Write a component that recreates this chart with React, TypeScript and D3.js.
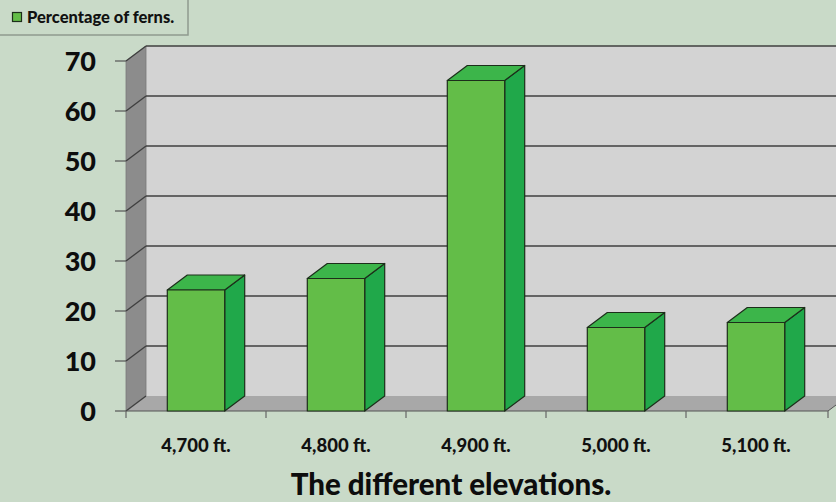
import React from "react";
import * as d3 from "d3";

const categories = ["4,700 ft.", "4,800 ft.", "4,900 ft.", "5,000 ft.", "5,100 ft."];
const values = [24.2, 26.5, 66.1, 16.7, 17.7];
const yTicks = [0, 10, 20, 30, 40, 50, 60, 70];
const seriesName = "Percentage of ferns.";
const xTitle = "The different elevations.";

const W = 836;
const H = 502;
const left = 126;
const right = 826;
const bottom = 411;
const top = 61;
const DX = 20;
const DY = -15;
const FONT = "Lato, 'Open Sans', sans-serif";

export default function App() {
  const x = d3
    .scaleBand<string>()
    .domain(categories)
    .range([left, right])
    .paddingInner(0.59)
    .paddingOuter(0.295);
  const y = d3.scaleLinear().domain([0, 70]).range([bottom, top]);
  const farRight = right + 2 + DX + 10;

  const poly = (pts: [number, number][]) => pts.map((p) => p.join(",")).join(" ");

  return (
    <svg
      width={W}
      height={H}
      style={{ position: "absolute", left: 0, top: 0, background: "#c9dac8" }}
    >
      <rect x={0} y={0} width={W} height={H} fill="#c9dac8" />
      {/* back wall */}
      <polygon
        points={poly([
          [left + DX, y(70) + DY],
          [farRight, y(70) + DY],
          [farRight, y(0) + DY],
          [left + DX, y(0) + DY],
        ])}
        fill="#d3d3d3"
      />
      {/* side wall */}
      <polygon
        points={poly([
          [left, y(0)],
          [left, y(70)],
          [left + DX, y(70) + DY],
          [left + DX, y(0) + DY],
        ])}
        fill="#8c8c8c"
        stroke="#7a7a7a"
        strokeWidth={0.8}
      />
      {/* floor */}
      <polygon
        points={poly([
          [left, y(0)],
          [right + 2, y(0)],
          [right + 2 + DX, y(0) + DY],
          [left + DX, y(0) + DY],
        ])}
        fill="#a8a8a8"
      />
      {/* gridlines */}
      {yTicks.map((t) => (
        <g key={t}>
          {t > 0 && (
            <line
              x1={left + DX}
              x2={farRight}
              y1={y(t) + DY}
              y2={y(t) + DY}
              stroke="#3f3f3f"
              strokeWidth={1.3}
            />
          )}
          <line
            x1={left}
            x2={left + DX}
            y1={y(t)}
            y2={y(t) + DY}
            stroke="#3f3f3f"
            strokeWidth={1.3}
          />
          <line x1={left - 11} x2={left} y1={y(t)} y2={y(t)} stroke="#555" strokeWidth={1.2} />
          <text
            x={96}
            y={y(t)}
            dy="0.36em"
            textAnchor="end"
            fontFamily={FONT}
            fontWeight={900}
            fontSize={27}
            fill="#0d0d0d"
          >
            {t}
          </text>
        </g>
      ))}
      {/* floor front edge & category ticks */}
      <line x1={left} x2={right + 2} y1={y(0)} y2={y(0)} stroke="#555" strokeWidth={1.2} />
      <line
        x1={right + 2}
        x2={right + 2 + DX}
        y1={y(0)}
        y2={y(0) + DY}
        stroke="#555"
        strokeWidth={1}
      />
      {categories.map((c, i) => {
        const b = left + i * x.step();
        return (
          <line key={"t" + c} x1={b} x2={b} y1={y(0)} y2={y(0) + 7} stroke="#666" strokeWidth={1.2} />
        );
      })}
      <line x1={right + 2} x2={right + 2} y1={y(0)} y2={y(0) + 7} stroke="#666" strokeWidth={1.2} />
      {/* bars */}
      {categories.map((c, i) => {
        const x0 = x(c)!;
        const bw = x.bandwidth();
        const x1 = x0 + bw;
        const yt = y(values[i]);
        const yb = y(0);
        return (
          <g key={c} stroke="#1c2e1a" strokeWidth={1.2} strokeLinejoin="round">
            <polygon
              points={poly([
                [x1, yt],
                [x1 + DX, yt + DY],
                [x1 + DX, yb + DY],
                [x1, yb],
              ])}
              fill="#20a84a"
            />
            <polygon
              points={poly([
                [x0, yt],
                [x0 + DX, yt + DY],
                [x1 + DX, yt + DY],
                [x1, yt],
              ])}
              fill="#3cb54a"
            />
            <rect x={x0} y={yt} width={bw} height={yb - yt} fill="#63bd48" />
          </g>
        );
      })}
      {/* category labels */}
      {categories.map((c) => (
        <text
          key={"l" + c}
          x={x(c)! + x.bandwidth() / 2}
          y={452}
          textAnchor="middle"
          fontFamily={FONT}
          fontWeight={900}
          fontSize={18.5}
          fill="#111"
        >
          {c}
        </text>
      ))}
      {/* axis title */}
      <text
        x={451}
        y={495}
        textAnchor="middle"
        fontFamily={FONT}
        fontWeight={900}
        fontSize={29.5}
        fill="#0d0d0d"
      >
        {xTitle}
      </text>
      {/* legend */}
      <rect x={-2} y={-2} width={190} height={37} fill="#c9dac8" stroke="#8f9a8f" strokeWidth={1.5} />
      <rect x={12.5} y={12.5} width={9} height={9} fill="#63bd48" stroke="#1c2e1a" strokeWidth={1.2} />
      <text x={27} y={23} fontFamily={FONT} fontWeight={900} fontSize={16.5} fill="#111">
        {seriesName}
      </text>
    </svg>
  );
}
